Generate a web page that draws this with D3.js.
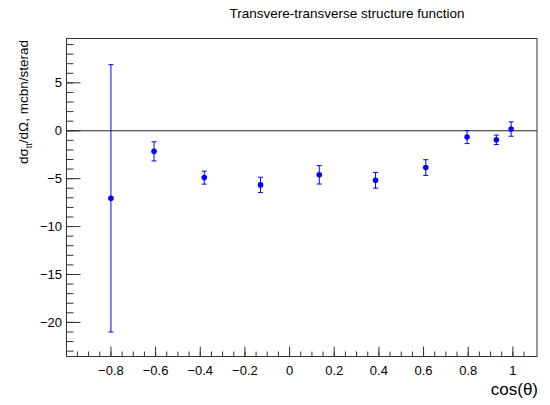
<!DOCTYPE html>
<html>
<head>
<meta charset="utf-8">
<script src="https://cdn.jsdelivr.net/npm/d3@7"></script>
<style>
  body { margin: 0; background: #fff; }
  svg { display: block; font-family: "Liberation Sans", Arial, sans-serif; }
</style>
</head>
<body>
<svg id="chart" width="550" height="405"></svg>
<script>
// Measured points: cos(theta), structure function value and its symmetric error
const cosTheta = [-0.80, -0.607, -0.382, -0.13, 0.133, 0.385, 0.61, 0.795, 0.926, 0.992];
const sigmaTT  = [-7.05, -2.15, -4.89, -5.65, -4.60, -5.17, -3.84, -0.66, -0.94, 0.18];
const sigmaErr = [13.95, 1.00, 0.68, 0.80, 0.96, 0.82, 0.82, 0.68, 0.49, 0.75];

const xTicks = [-0.8, -0.6, -0.4, -0.2, 0, 0.2, 0.4, 0.6, 0.8, 1];
const yTicks = [-20, -15, -10, -5, 0, 5];

const svg = d3.select("#chart");
const frame = { left: 66.5, right: 537, top: 38.5, bottom: 356.5 };

const x = d3.scaleLinear().domain([-0.999, 1.108]).range([frame.left, frame.right]);
const y = d3.scaleLinear().domain([-23.56, 9.63]).range([frame.bottom, frame.top]);

const fmt = v => (v < 0 ? "\u2212" + Math.abs(v) : String(v));

// Frame
svg.append("rect")
  .attr("x", frame.left).attr("y", frame.top)
  .attr("width", frame.right - frame.left).attr("height", frame.bottom - frame.top)
  .attr("fill", "none").attr("stroke", "#333").attr("stroke-width", 1);

// X axis: ticks point up into the frame
const xMinor = d3.range(-0.95, 1.1, 0.05).map(v => Math.round(v * 100) / 100);
const gx = svg.append("g");
gx.selectAll("line.minor").data(xMinor).join("line").attr("class", "minor")
  .attr("x1", d => x(d)).attr("x2", d => x(d))
  .attr("y1", frame.bottom).attr("y2", frame.bottom - 5)
  .attr("stroke", "#333");
gx.selectAll("line.major").data(xTicks).join("line").attr("class", "major")
  .attr("x1", d => x(d)).attr("x2", d => x(d))
  .attr("y1", frame.bottom).attr("y2", frame.bottom - 10)
  .attr("stroke", "#333");
gx.selectAll("text").data(xTicks).join("text")
  .attr("x", d => x(d)).attr("y", 375)
  .attr("text-anchor", "middle")
  .attr("font-size", 13)
  .text(fmt);

// Y axis: ticks point right into the frame
const yMinor = d3.range(-23, 10, 1);
const gy = svg.append("g");
gy.selectAll("line.minor").data(yMinor).join("line").attr("class", "minor")
  .attr("x1", frame.left).attr("x2", frame.left + 7)
  .attr("y1", d => y(d)).attr("y2", d => y(d))
  .attr("stroke", "#333");
gy.selectAll("line.major").data(yTicks).join("line").attr("class", "major")
  .attr("x1", frame.left).attr("x2", frame.left + 14)
  .attr("y1", d => y(d)).attr("y2", d => y(d))
  .attr("stroke", "#333");
gy.selectAll("text").data(yTicks).join("text")
  .attr("x", 62).attr("y", d => y(d) + 4.5)
  .attr("text-anchor", "end")
  .attr("font-size", 13)
  .text(fmt);

// Zero reference line
svg.append("line")
  .attr("x1", frame.left).attr("x2", frame.right)
  .attr("y1", y(0)).attr("y2", y(0))
  .attr("stroke", "#222").attr("stroke-width", 1);

// Error bars and markers
const pts = cosTheta.map((c, i) => ({ c, v: sigmaTT[i], e: sigmaErr[i] }));
const gp = svg.append("g").attr("stroke", "#0000ff").attr("fill", "#0000ff");
gp.selectAll("line.bar").data(pts).join("line").attr("class", "bar")
  .attr("x1", d => x(d.c)).attr("x2", d => x(d.c))
  .attr("y1", d => y(d.v + d.e)).attr("y2", d => y(d.v - d.e));
gp.selectAll("line.capTop").data(pts).join("line").attr("class", "capTop")
  .attr("x1", d => x(d.c) - 2.5).attr("x2", d => x(d.c) + 2.5)
  .attr("y1", d => y(d.v + d.e)).attr("y2", d => y(d.v + d.e));
gp.selectAll("line.capBot").data(pts).join("line").attr("class", "capBot")
  .attr("x1", d => x(d.c) - 2.5).attr("x2", d => x(d.c) + 2.5)
  .attr("y1", d => y(d.v - d.e)).attr("y2", d => y(d.v - d.e));
gp.selectAll("circle").data(pts).join("circle")
  .attr("cx", d => x(d.c)).attr("cy", d => y(d.v))
  .attr("r", 2.8).attr("stroke", "none");

// Title
svg.append("text")
  .attr("x", 347).attr("y", 18)
  .attr("text-anchor", "middle")
  .attr("font-size", 13.5)
  .text("Transvere-transverse structure function");

// Axis titles
svg.append("text")
  .attr("x", 538).attr("y", 395)
  .attr("text-anchor", "end")
  .attr("font-size", 17)
  .text("cos(\u03b8)");

const yl = svg.append("text")
  .attr("transform", "translate(28,40) rotate(-90)")
  .attr("text-anchor", "end")
  .attr("font-size", 13.5);
yl.append("tspan").text("d\u03c3");
yl.append("tspan").attr("font-size", 9).attr("dy", 4).text("tt");
yl.append("tspan").attr("dy", -4).text("/d\u03a9, mcbn/sterad");
</script>
</body>
</html>
